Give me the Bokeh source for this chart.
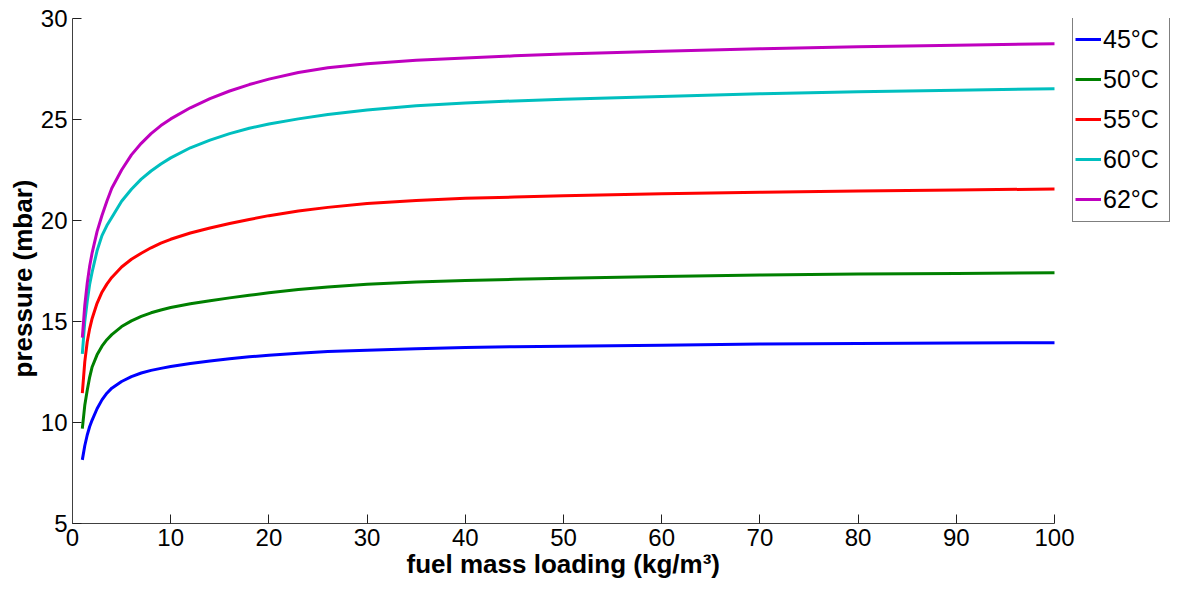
from bokeh.plotting import figure
from bokeh.models import Range1d, FixedTicker, Legend, LegendItem, Title
from bokeh.embed import file_html
from bokeh.resources import INLINE

# fuel mass loading (kg/m^3)
loading = [1, 1.25, 1.5, 1.75, 2, 2.5, 3, 3.5, 4, 5, 6, 7, 8, 9, 10, 12, 14, 16, 18, 20,
           23, 26, 30, 35, 40, 45, 50, 60, 70, 80, 90, 100]

# pressure (mbar) per temperature
p45 = [8.15, 8.85, 9.38, 9.80, 10.12, 10.68, 11.12, 11.45, 11.70, 12.03, 12.27, 12.45, 12.58, 12.68,
       12.77, 12.92, 13.05, 13.16, 13.25, 13.33, 13.43, 13.51, 13.58, 13.65, 13.71, 13.75, 13.78,
       13.83, 13.88, 13.91, 13.93, 13.95]
p50 = [9.70, 10.85, 11.60, 12.25, 12.75, 13.35, 13.78, 14.10, 14.35, 14.75, 15.03, 15.25, 15.43, 15.57,
       15.69, 15.88, 16.03, 16.17, 16.30, 16.42, 16.58, 16.71, 16.84, 16.95, 17.03, 17.09, 17.14,
       17.23, 17.30, 17.35, 17.38, 17.41]
p55 = [11.45, 13.00, 14.00, 14.65, 15.15, 15.90, 16.45, 16.85, 17.18, 17.70, 18.08, 18.38, 18.65, 18.88,
       19.07, 19.38, 19.63, 19.85, 20.05, 20.24, 20.47, 20.65, 20.84, 20.99, 21.10, 21.16, 21.22,
       21.32, 21.40, 21.46, 21.51, 21.56]
p60 = [13.40, 15.00, 16.00, 16.85, 17.45, 18.50, 19.25, 19.75, 20.15, 20.95, 21.55, 22.05, 22.45, 22.80,
       23.10, 23.60, 23.98, 24.30, 24.57, 24.78, 25.03, 25.25, 25.47, 25.68, 25.82, 25.92, 26.00,
       26.14, 26.27, 26.37, 26.45, 26.52]
p62 = [14.20, 15.80, 16.90, 17.75, 18.40, 19.45, 20.25, 20.95, 21.60, 22.50, 23.25, 23.82, 24.30, 24.70,
       25.03, 25.58, 26.03, 26.41, 26.73, 27.00, 27.33, 27.56, 27.76, 27.93, 28.05, 28.15, 28.24,
       28.38, 28.50, 28.60, 28.68, 28.75]

series_labels = ["45°C", "50°C", "55°C", "60°C", "62°C"]
series_values = [p45, p50, p55, p60, p62]
series_colors = ["#0000ff", "#008000", "#ff0000", "#00bfbf", "#bf00bf"]

x_ticks = [0, 10, 20, 30, 40, 50, 60, 70, 80, 90, 100]
y_ticks = [5, 10, 15, 20, 25, 30]
x_label = "fuel mass loading (kg/m³)"
y_label = "pressure (mbar)"

FONT = "Liberation Sans"

# frame spans 72..1170 px; data x = 0..100 occupies 72..1054, the rest holds the legend
p = figure(width=1171, height=585, output_backend="svg", toolbar_location=None,
           x_range=Range1d(0, 100 * 1098 / 982), y_range=Range1d(5, 30),
           min_border_left=72, min_border_right=1, min_border_top=18, min_border_bottom=62)
p.outline_line_color = None
p.grid.visible = False
p.background_fill_color = "white"
p.border_fill_color = "white"

items = []
for lab, vals, col in zip(series_labels, series_values, series_colors):
    r = p.line(loading, vals, line_color=col, line_width=3, line_join="round")
    items.append(LegendItem(label=lab, renderers=[r]))

for ax in (p.xaxis[0], p.yaxis[0]):
    ax.major_tick_in = 9
    ax.major_tick_out = 0
    ax.minor_tick_in = 0
    ax.minor_tick_out = 0
    ax.axis_line_color = "#404040"
    ax.axis_line_width = 1
    ax.major_tick_line_color = "#202020"
    ax.major_label_text_font = FONT
    ax.major_label_text_font_size = "24px"
    ax.major_label_text_color = "black"

p.xaxis[0].ticker = FixedTicker(ticks=x_ticks)
p.yaxis[0].ticker = FixedTicker(ticks=y_ticks)
p.xaxis[0].bounds = (0, 100)
p.yaxis[0].bounds = (5, 30)
p.xaxis[0].major_label_standoff = 5
p.yaxis[0].major_label_standoff = 5

# axis titles, centred on the data extent (not on the wider frame)
xt = Title(text=x_label, align="left", offset=334, vertical_align="top", standoff=0,
           text_font=FONT, text_font_size="26px", text_font_style="bold", text_color="black")
p.add_layout(xt, "below")
yt = Title(text=y_label, align="left", offset=146, vertical_align="bottom", standoff=0,
           text_font=FONT, text_font_size="26px", text_font_style="bold", text_color="black")
p.add_layout(yt, "left")

legend = Legend(items=items, location=(1000, 301), orientation="vertical",
                label_text_font=FONT, label_text_font_size="25px", label_text_color="black",
                glyph_width=26, glyph_height=40, label_height=40, label_width=64,
                label_standoff=2, spacing=0, padding=2, margin=0,
                border_line_color="black", border_line_width=1,
                background_fill_color="white", background_fill_alpha=1)
p.add_layout(legend, "center")

open("out.html", "w").write(file_html(p, INLINE))
